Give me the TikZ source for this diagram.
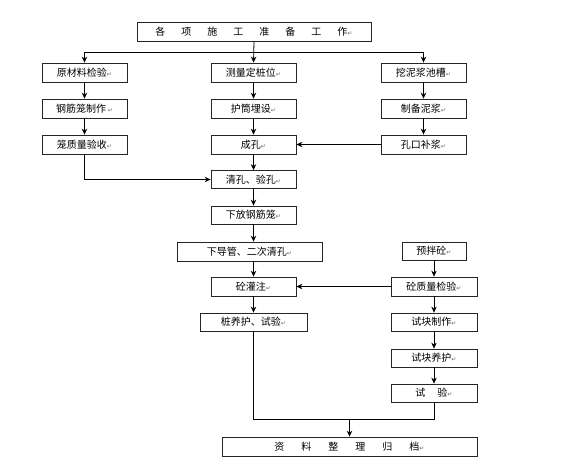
\documentclass[tikz,border=0pt]{standalone}
\usepackage{fontspec}
\newfontfamily\cjk{Noto Sans CJK SC}
\newfontfamily\dvs{DejaVu Sans}
\usetikzlibrary{arrows.meta}
\newcommand\retmk{{\dvs\fontsize{6}{6}\selectfont\color{black!60}↵}}
\tikzset{
  box/.style={draw=black!85, line width=0.8pt, inner sep=0pt, minimum height=19pt,
    font=\cjk\fontsize{10}{12}\selectfont, text=black},
  flow/.style={draw=black, line width=0.8pt, -{Stealth[length=6pt,width=5.5pt]}},
  line/.style={draw=black, line width=0.8pt}
}
\begin{document}
\begin{tikzpicture}[x=1pt,y=-1pt]
\useasboundingbox (0,0) rectangle (565,463);
% nodes
\node[box, minimum width=234pt] (top) at (254,31.5) {各\hspace{1.6em}项\hspace{1.6em}施\hspace{1.6em}工\hspace{1.6em}准\hspace{1.6em}备\hspace{1.6em}工\hspace{1.6em}作\retmk};
\node[box, minimum width=85pt] (L1) at (84.5,72.5) {原材料检验\retmk};
\node[box, minimum width=85pt] (L2) at (84.5,108.5) {钢筋笼制作\,\retmk};
\node[box, minimum width=85pt] (L3) at (84.5,144.5) {笼质量验收\retmk};
\node[box, minimum width=85pt] (C1) at (253.5,72.5) {测量定桩位\retmk};
\node[box, minimum width=85pt] (C2) at (253.5,108.5) {护筒埋设\retmk};
\node[box, minimum width=85pt] (C3) at (253.5,144.5) {成孔\retmk};
\node[box, minimum width=85pt] (R1) at (423.5,72.5) {挖泥浆池槽\retmk};
\node[box, minimum width=85pt] (R2) at (423.5,108.5) {制备泥浆\retmk};
\node[box, minimum width=85pt] (R3) at (423.5,144.5) {孔口补浆\retmk};
\node[box, minimum width=85pt, minimum height=18pt] (Q) at (253.5,179.5) {清孔、验孔\retmk};
\node[box, minimum width=85pt, minimum height=18pt] (X) at (253.5,215) {下放钢筋笼\retmk};
\node[box, minimum width=145pt] (D) at (249.5,251.5) {下导管、二次清孔\retmk};
\node[box, minimum width=85pt] (G) at (253.5,286.5) {砼灌注\retmk};
\node[box, minimum width=107pt, minimum height=18pt] (Y) at (253.5,322) {桩养护、试验\retmk};
\node[box, minimum width=64pt, minimum height=18pt] (P) at (434,251) {预拌砼\retmk};
\node[box, minimum width=86pt] (J) at (434,286.5) {砼质量检验\retmk};
\node[box, minimum width=86pt, minimum height=18pt] (S1) at (434,322) {试块制作\retmk};
\node[box, minimum width=86pt, minimum height=18pt] (S2) at (434,358) {试块养护\retmk};
\node[box, minimum width=86pt, minimum height=18pt] (S3) at (434,393) {试\hspace{1.2em}验\retmk};
\node[box, minimum width=255pt] (Z) at (349.5,446.5) {资\hspace{1.7em}料\hspace{1.7em}整\hspace{1.7em}理\hspace{1.7em}归\hspace{1.7em}档\retmk};
% coordinates
\coordinate (barL) at (84.5,52);
\coordinate (barR) at (423.5,52);
\coordinate (mL) at (253.5,419);
\coordinate (mR) at (434,419);
\coordinate (mM) at (349.5,419);
% connectors
\draw[line] (barL) -- (barR);
\draw[flow] (top.south) -- (C1.north);
\draw[flow] (barL) -- (L1.north);
\draw[flow] (barR) -- (R1.north);
\draw[flow] (L1) -- (L2);
\draw[flow] (L2) -- (L3);
\draw[flow] (C1) -- (C2);
\draw[flow] (C2) -- (C3);
\draw[flow] (R1) -- (R2);
\draw[flow] (R2) -- (R3);
\draw[flow] (R3.west) -- (C3.east);
\draw[flow] (L3.south) |- (Q.west);
\draw[flow] (C3) -- (Q);
\draw[flow] (Q) -- (X);
\draw[flow] (X.south) -- (X.south |- D.north);
\draw[flow] (D.south -| G.north) -- (G.north);
\draw[flow] (G) -- (Y);
\draw[flow] (P) -- (J);
\draw[flow] (J.west) -- (G.east);
\draw[flow] (J) -- (S1);
\draw[flow] (S1) -- (S2);
\draw[flow] (S2) -- (S3);
\draw[line] (Y.south) -- (mL) -- (mR) -- (S3.south);
\draw[flow] (mM) -- (Z.north);
\end{tikzpicture}
\end{document}
